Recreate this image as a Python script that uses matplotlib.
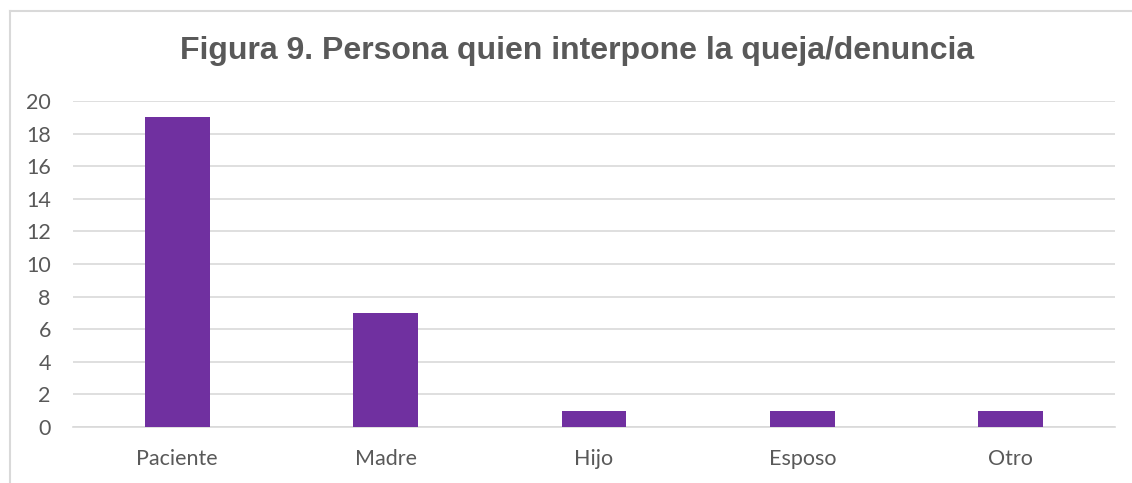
import matplotlib
matplotlib.use("Agg")
import matplotlib.pyplot as plt

categories = ["Paciente", "Madre", "Hijo", "Esposo", "Otro"]
values = [19, 7, 1, 1, 1]
yticks = [0, 2, 4, 6, 8, 10, 12, 14, 16, 18, 20]
title = "Figura 9. Persona quien interpone la queja/denuncia"

W, H = 1132, 483
fig = plt.figure(figsize=(W / 100, H / 100), dpi=100)
fig.patch.set_facecolor("white")

# chart frame (cropped: only top and left edges visible)
fig.add_artist(plt.Line2D([10 / W, 10 / W], [0, 1 - 11 / H], color="#D9D9D9", lw=1.5))
fig.add_artist(plt.Line2D([10 / W, 1], [1 - 11 / H, 1 - 11 / H], color="#D9D9D9", lw=1.5))

left, right = 73, 1115
top, bottom = 101, 427
ax = fig.add_axes([left / W, 1 - bottom / H, (right - left) / W, (bottom - top) / H])
x = list(range(len(categories)))
ax.bar(x, values, width=0.31, color="#7030A0", zorder=3)
ax.set_xlim(-0.5, len(categories) - 0.5)
ax.set_ylim(0, 20)
ax.set_yticks(yticks)
ax.set_xticks(x)
ax.set_xticklabels(categories)
ax.yaxis.grid(True, color="#D9D9D9", lw=1.2, zorder=0)
for s in ["top", "right", "left"]:
    ax.spines[s].set_visible(False)
ax.spines["bottom"].set_color("#D9D9D9")
ax.spines["bottom"].set_linewidth(1.2)
ax.tick_params(axis="both", length=0, colors="#595959", labelsize=15.5)
ax.tick_params(axis="y", pad=16)
ax.tick_params(axis="x", pad=16)
for lab in ax.get_xticklabels() + ax.get_yticklabels():
    lab.set_fontfamily("Lato")

fig.text(577 / W, 1 - 51 / H, title, ha="center", va="center",
         fontsize=23, fontweight="bold", color="#595959", family="Liberation Sans")

fig.savefig("out.png", dpi=100, facecolor="white")
